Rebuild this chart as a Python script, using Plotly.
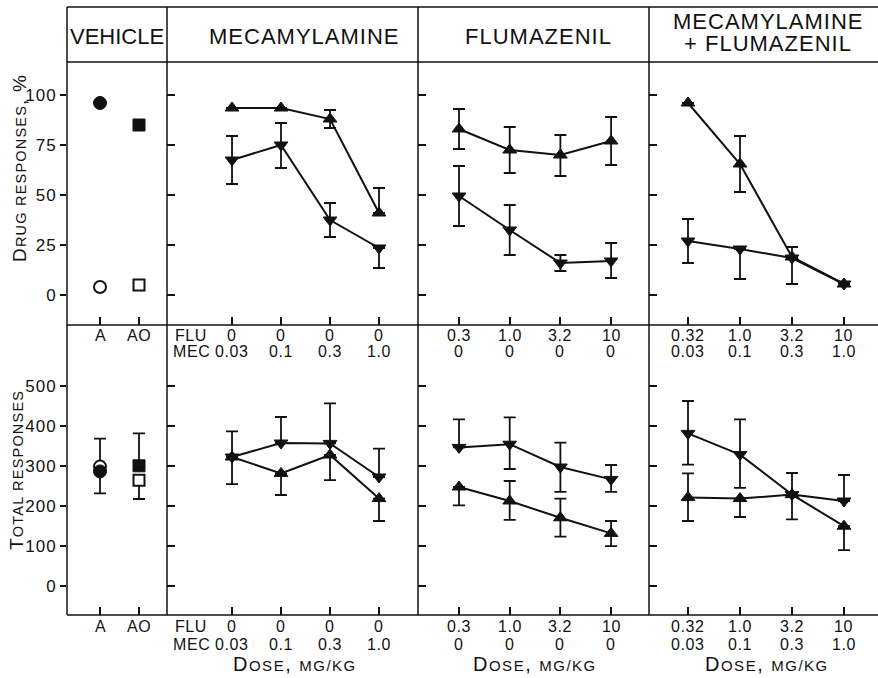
import math
import plotly.graph_objects as go

# ------------------------------------------------------------------ data
vehicle_groups = ["A", "AO"]

mec_flu_dose = ["0", "0", "0", "0"]
mec_mec_dose = ["0.03", "0.1", "0.3", "1.0"]
flu_flu_dose = ["0.3", "1.0", "3.2", "10"]
flu_mec_dose = ["0", "0", "0", "0"]
comb_flu_dose = ["0.32", "1.0", "3.2", "10"]
comb_mec_dose = ["0.03", "0.1", "0.3", "1.0"]

# vehicle, drug responses (%)  -- circle = A, square = AO
veh_drug_circle_filled = [96]
veh_drug_circle_open = [4]
veh_drug_square_filled = [85]
veh_drug_square_open = [5]

# vehicle, total responses : value, +err, -err
veh_tot_circle_filled = [286]
veh_tot_circle_filled_plus, veh_tot_circle_filled_minus = [0], [55]
veh_tot_circle_open = [298]
veh_tot_circle_open_plus, veh_tot_circle_open_minus = [70], [0]
veh_tot_square_filled = [300]
veh_tot_square_filled_plus, veh_tot_square_filled_minus = [81], [0]
veh_tot_square_open = [264]
veh_tot_square_open_plus, veh_tot_square_open_minus = [0], [47]

# drug responses (%) : value, +err, -err
mec_up = [93.5, 93.5, 88, 41]
mec_up_plus = [0, 0, 4.5, 12.5]
mec_up_minus = [0, 0, 4.5, 0]
mec_down = [67.5, 75, 37.5, 23.5]
mec_down_plus = [12, 11, 8.5, 0]
mec_down_minus = [12, 11.5, 8.5, 10]

flu_up = [83, 72.5, 70, 77]
flu_up_plus = [10, 11.5, 10, 12]
flu_up_minus = [10, 11.5, 10.5, 12]
flu_down = [49.5, 32.5, 16, 17]
flu_down_plus = [15, 12.5, 4, 9]
flu_down_minus = [15, 12.5, 4, 8.5]

comb_up = [96, 65.5, 19, 5.5]
comb_up_plus = [0, 14, 5, 0]
comb_up_minus = [0, 14, 0, 0]
comb_down = [27, 23, 18.5, 5.5]
comb_down_plus = [11, 0, 0, 0]
comb_down_minus = [11, 15, 13, 0]

# total responses : value, +err, -err
mec_up_tot = [322, 281, 327, 218]
mec_up_tot_plus = [0, 0, 0, 0]
mec_up_tot_minus = [68, 54, 63, 56]
mec_down_tot = [322, 357, 356, 272]
mec_down_tot_plus = [64, 65, 100, 71]
mec_down_tot_minus = [0, 0, 0, 0]

flu_up_tot = [247, 212, 170, 131]
flu_up_tot_plus = [0, 50, 48, 31]
flu_up_tot_minus = [46, 47, 47, 32]
flu_down_tot = [346, 354, 297, 266]
flu_down_tot_plus = [70, 67, 61, 36]
flu_down_tot_minus = [0, 62, 62, 31]

comb_up_tot = [221, 218, 228, 149]
comb_up_tot_plus = [60, 0, 54, 0]
comb_up_tot_minus = [59, 46, 0, 60]
comb_down_tot = [381, 328, 228, 212]
comb_down_tot_plus = [81, 88, 0, 65]
comb_down_tot_minus = [78, 83, 62, 0]

drug_ticks = [0, 25, 50, 75, 100]
total_ticks = [0, 100, 200, 300, 400, 500]

# ------------------------------------------------------------------ layout geometry
W, H = 878, 678
ML, MR, MT, MB = 67, 0, 7, 63
PW, PH = W - ML - MR, H - MT - MB
INK = "#111111"
FONT = "Liberation Sans, Arial, Helvetica, sans-serif"


def fx(p):
    return (p - ML) / PW


def fy(p):
    return (H - MB - p) / PH


col_px = [67, 167, 418, 649, 878]
header_px, mid_px, bottom_px = 62, 325, 615
col_dom = [[fx(col_px[i]), fx(col_px[i + 1])] for i in range(4)]
top_dom = [fy(mid_px), fy(header_px)]
bot_dom = [0, fy(mid_px)]

x_ranges = [[-0.846, 1.718], [-1.327, 3.796], [-0.809, 3.748], [-0.75, 3.654]]
drug_range = [-15, 116.5]
total_range = [-73, 652]

fig = go.Figure()


def err_arrays(plus, minus):
    # points with no error in either direction get no bar at all
    p, m = [], []
    for a, b in zip(plus, minus):
        if a == 0 and b == 0:
            p.append(math.nan)
            m.append(math.nan)
        else:
            p.append(a)
            m.append(b)
    return p, m


def add_points(xa, ya, xs, y, plus, minus, symbol, filled=True, size=12, line=True):
    p, m = err_arrays(plus, minus)
    fig.add_trace(go.Scatter(
        x=xs, y=y, xaxis=xa, yaxis=ya,
        mode="lines+markers" if line else "markers",
        line=dict(color=INK, width=2),
        marker=dict(symbol=symbol, size=size,
                    color=INK if filled else "white",
                    line=dict(color=INK, width=1 if filled else 2)),
        error_y=dict(type="data", symmetric=False, array=p, arrayminus=m,
                     color=INK, thickness=1.8, width=6),
        showlegend=False, hoverinfo="skip",
    ))


# vehicle - drug responses
add_points("x", "y", [0], veh_drug_circle_filled, [0], [0], "circle", True, 13, False)
add_points("x", "y", [0], veh_drug_circle_open, [0], [0], "circle", False, 12, False)
add_points("x", "y", [1], veh_drug_square_filled, [0], [0], "square", True, 12, False)
add_points("x", "y", [1], veh_drug_square_open, [0], [0], "square", False, 11, False)
# vehicle - total responses
add_points("x5", "y5", [0], veh_tot_circle_open, veh_tot_circle_open_plus,
           veh_tot_circle_open_minus, "circle", False, 12, False)
add_points("x5", "y5", [0], veh_tot_circle_filled, veh_tot_circle_filled_plus,
           veh_tot_circle_filled_minus, "circle", True, 13, False)
add_points("x5", "y5", [1], veh_tot_square_filled, veh_tot_square_filled_plus,
           veh_tot_square_filled_minus, "square", True, 12, False)
add_points("x5", "y5", [1], veh_tot_square_open, veh_tot_square_open_plus,
           veh_tot_square_open_minus, "square", False, 11, False)

# dose panels
panels = [
    ("x2", "y2", mec_up, mec_up_plus, mec_up_minus, mec_down, mec_down_plus, mec_down_minus),
    ("x3", "y3", flu_up, flu_up_plus, flu_up_minus, flu_down, flu_down_plus, flu_down_minus),
    ("x4", "y4", comb_up, comb_up_plus, comb_up_minus, comb_down, comb_down_plus, comb_down_minus),
    ("x6", "y6", mec_up_tot, mec_up_tot_plus, mec_up_tot_minus, mec_down_tot, mec_down_tot_plus, mec_down_tot_minus),
    ("x7", "y7", flu_up_tot, flu_up_tot_plus, flu_up_tot_minus, flu_down_tot, flu_down_tot_plus, flu_down_tot_minus),
    ("x8", "y8", comb_up_tot, comb_up_tot_plus, comb_up_tot_minus, comb_down_tot, comb_down_tot_plus, comb_down_tot_minus),
]
for xa, ya, up, upp, upm, dn, dnp, dnm in panels:
    xs = list(range(len(up)))
    add_points(xa, ya, xs, up, upp, upm, "triangle-up")
    add_points(xa, ya, xs, dn, dnp, dnm, "triangle-down")

# ------------------------------------------------------------------ axes
layout_axes = {}
n_pts = [2, 4, 4, 4]
for row in range(2):
    for c in range(4):
        k = row * 4 + c + 1
        xs = "" if k == 1 else str(k)
        layout_axes["xaxis" + xs] = dict(
            domain=col_dom[c], range=x_ranges[c], anchor="y" + xs,
            showgrid=False, zeroline=False, showline=False,
            ticks="inside", ticklen=8, tickwidth=1.5, tickcolor=INK,
            tickvals=list(range(n_pts[c])), showticklabels=False, fixedrange=True,
        )
        yt = drug_ticks if row == 0 else total_ticks
        yaxis = dict(
            domain=top_dom if row == 0 else bot_dom,
            range=drug_range if row == 0 else total_range,
            anchor="x" + xs, showgrid=False, zeroline=False, showline=False,
            tickvals=yt, tickwidth=1.5, tickcolor=INK, fixedrange=True,
        )
        if c == 0:
            yaxis.update(ticks="outside", ticklen=6, showticklabels=True,
                         ticktext=['<span style="letter-spacing:1px">%d</span>' % v for v in yt],
                         tickfont=dict(family=FONT, size=17, color=INK))
        else:
            yaxis.update(ticks="inside", ticklen=8, showticklabels=False)
        layout_axes["yaxis" + xs] = yaxis

# inward half of the crossing ticks on the vehicle axes
layout_axes["yaxis9"] = dict(overlaying="y", anchor="x", side="left", range=drug_range,
                             tickvals=drug_ticks, ticks="inside", ticklen=8, tickwidth=1.5,
                             tickcolor=INK, showticklabels=False, showgrid=False,
                             zeroline=False, showline=False, fixedrange=True)
layout_axes["yaxis10"] = dict(overlaying="y5", anchor="x5", side="left", range=total_range,
                              tickvals=total_ticks, ticks="inside", ticklen=8, tickwidth=1.5,
                              tickcolor=INK, showticklabels=False, showgrid=False,
                              zeroline=False, showline=False, fixedrange=True)

# ------------------------------------------------------------------ frame
shapes = []
for ypx in [MT, header_px, mid_px, bottom_px]:
    shapes.append(dict(type="line", xref="paper", yref="paper", x0=0, x1=1,
                       y0=fy(ypx), y1=fy(ypx), line=dict(color=INK, width=1.5)))
for xpx in col_px[:4]:
    shapes.append(dict(type="line", xref="paper", yref="paper", x0=fx(xpx), x1=fx(xpx),
                       y0=0, y1=1, line=dict(color=INK, width=1.5)))

# ------------------------------------------------------------------ text
ann = []


def text(x, y, s, size, xref="paper", yref="paper", angle=0, xanchor="center",
         yanchor="middle", spacing=0):
    if spacing:
        s = '<span style="letter-spacing:%spx">%s</span>' % (spacing, s)
    ann.append(dict(x=x, y=y, xref=xref, yref=yref, text=s, showarrow=False,
                    textangle=angle, xanchor=xanchor, yanchor=yanchor,
                    font=dict(family=FONT, size=size, color=INK)))


# column headers
text(fx(117), fy(36), "VEHICLE", 22)
text(fx(304), fy(36), "MECAMYLAMINE", 22, spacing=1)
text(fx(538), fy(37), "FLUMAZENIL", 22, spacing=1)
text(fx(768), fy(21.5), "MECAMYLAMINE", 22, spacing=1)
text(fx(768), fy(44), "+ FLUMAZENIL", 22, spacing=1)

# y titles (small caps)
text(fx(19), fy(168),
     'D<span style="font-size:14.5px">RUG RESPONSES</span>, %', 19, angle=-90, spacing=1.2)
text(fx(16), fy(470),
     'T<span style="font-size:14.5px">OTAL RESPONSES</span>', 19, angle=-90, spacing=1.2)

# dose tick labels under both rows
dose_sets = [
    ("2", mec_flu_dose, mec_mec_dose),
    ("3", flu_flu_dose, flu_mec_dose),
    ("4", comb_flu_dose, comb_mec_dose),
]
for row, (r1, r2) in enumerate([(335, 352), (627, 644)]):
    off = row * 4
    for i, g in enumerate(vehicle_groups):
        text(i, fy(r1), g, 16, xref="x" if off == 0 else "x5", spacing=0.6)
    for ax, flu, mec in dose_sets:
        xr = "x" + str(int(ax) + off)
        for i in range(4):
            text(i, fy(r1), flu[i], 16, xref=xr, spacing=0.6)
            text(i, fy(r2), mec[i], 16, xref=xr, spacing=0.6)
    text(fx(191), fy(r1), "FLU", 16, spacing=0.6)
    text(fx(191), fy(r2), "MEC", 16, spacing=0.6)

# dose axis titles
for cx in [295, 535, 767]:
    text(fx(cx), fy(664),
         'D<span style="font-size:15px">OSE</span>, <span style="font-size:15px">MG/KG</span>',
         20, spacing=1.5)

fig.update_layout(
    width=W, height=H, autosize=False,
    margin=dict(l=ML, r=MR, t=MT, b=MB, pad=0),
    paper_bgcolor="white", plot_bgcolor="rgba(0,0,0,0)",
    showlegend=False, shapes=shapes, annotations=ann,
    font=dict(family=FONT, color=INK),
    **layout_axes,
)

fig.write_html("out.html", config={"displayModeBar": False})
